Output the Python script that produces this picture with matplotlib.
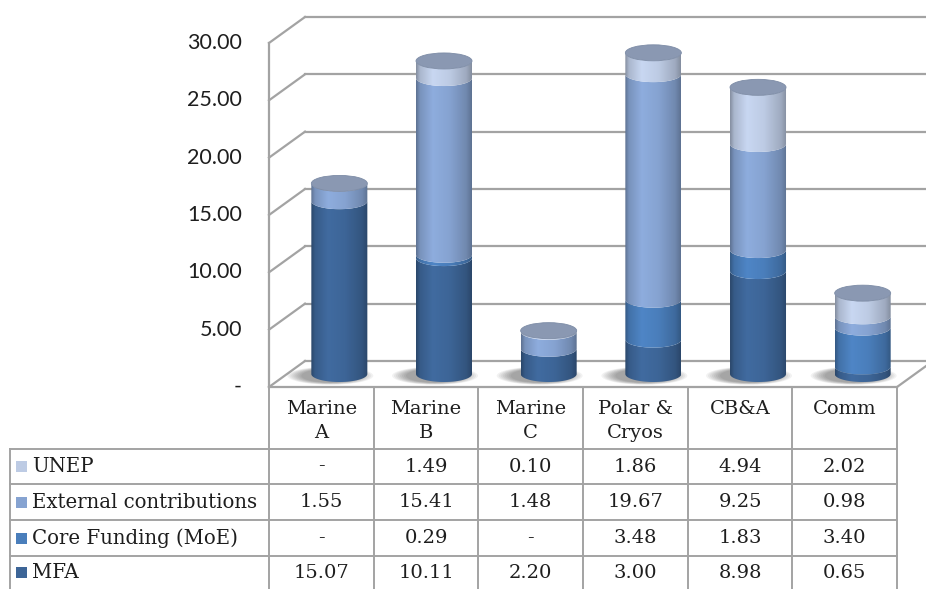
import numpy as np
import matplotlib.pyplot as plt
from matplotlib.patches import Ellipse, PathPatch, Rectangle
from matplotlib.path import Path
from matplotlib.colors import to_rgb

# funding per workstream (stacked bottom -> top: MFA, Core, External, UNEP)
categories = ['Marine\nA', 'Marine\nB', 'Marine\nC', 'Polar &\nCryos', 'CB&A', 'Comm']
unep = [0.00, 1.49, 0.10, 1.86, 4.94, 2.02]
external = [1.55, 15.41, 1.48, 19.67, 9.25, 0.98]
core = [0.00, 0.29, 0.00, 3.48, 1.83, 3.40]
mfa = [15.07, 10.11, 2.20, 3.00, 8.98, 0.65]
yticks = [0, 5, 10, 15, 20, 25, 30]

stack = [('MFA', mfa, '#3d6597'),
         ('Core Funding (MoE)', core, '#4a7ebb'),
         ('External contributions', external, '#86a3d1'),
         ('UNEP', unep, '#bdcbe4')]
table_rows = [stack[3], stack[2], stack[1], stack[0]]

GRID = '#a3a3a3'
TXT = '#1e1e1e'

# pixel layout -> data units (1 category = CAT_W px, 1 unit = UNIT px)
CAT_W = 104.67
UNIT = 11.467
X0, Y0 = 269, 387


def px_x(p):
    return (p - X0) / CAT_W


def px_y(p):
    return (Y0 - p) / UNIT


fig = plt.figure(figsize=(9.26, 5.89), dpi=100)
ax = fig.add_axes([0, 0, 1, 1])
ax.axis('off')

DX = 36 / CAT_W
DY = 26 / UNIT
n = len(categories)

# walls and floor
for t in yticks:
    ax.plot([0, DX], [t, t + DY], color=GRID, lw=1.6, zorder=1)
    ax.plot([DX, n + DX], [t + DY, t + DY], color=GRID, lw=1.6, zorder=1)
    ax.text(px_x(242), t, '-' if t == 0 else f'{t:.2f}', ha='right', va='center',
            fontsize=15.5, family='Lato', color=TXT)
ax.plot([0, 0], [0, 30], color=GRID, lw=1.6, zorder=1)
ax.plot([0, n], [0, 0], color=GRID, lw=1.6, zorder=1)
ax.plot([n, n + DX], [0, DY], color=GRID, lw=1.6, zorder=1)

# cylinders
rx = 28 / CAT_W
ry = 8 / UNIT
base = DY / 2
prof_u = [0, 0.07, 0.3, 0.6, 0.9, 1]
prof_f = [0.70, 0.9, 1.06, 1.0, 0.84, 0.70]
uu = np.linspace(0, 1, 120)
shade = np.interp(uu, prof_u, prof_f)
th = np.linspace(np.pi, 2 * np.pi, 60)

for i in range(n):
    cx = i + 0.5 + DX / 2
    # soft floor shadow, cast to the left
    for k in range(8):
        ax.add_patch(Ellipse((cx - 9 / CAT_W, base - 0.15), 2 * rx + (30 - 4 * k) / CAT_W,
                             2 * ry + (2 - 0.6 * k) / UNIT, facecolor='black', alpha=0.05,
                             edgecolor='none', zorder=2))
    y = base
    for name, vals, col in stack:
        v = vals[i]
        if v <= 0:
            continue
        y0, y1 = y, y + v
        top = np.column_stack([cx + rx * np.cos(th), y1 + ry * np.sin(th)])
        bot = np.column_stack([cx + rx * np.cos(th[::-1]), y0 + ry * np.sin(th[::-1])])
        verts = np.vstack([top, bot, top[:1]])
        codes = [Path.MOVETO] + [Path.LINETO] * (len(verts) - 2) + [Path.CLOSEPOLY]
        patch = PathPatch(Path(verts, codes), facecolor='none', edgecolor='none', zorder=3)
        ax.add_patch(patch)
        rgb = np.clip(np.array(to_rgb(col))[None, :] * shade[:, None], 0, 1)
        im = ax.imshow(rgb[None, :, :], extent=[cx - rx, cx + rx, y0 - ry, y1 + ry],
                       aspect='auto', interpolation='bilinear', zorder=3)
        im.set_clip_path(patch)
        y = y1
    ax.add_patch(Ellipse((cx, y), 2 * rx, 2 * ry, facecolor='#8a98b2',
                         edgecolor='#7d8ca6', lw=0.6, zorder=4))

# data table
rows_px = [449, 484, 520, 556, 589]
for i in range(n + 1):
    ax.plot([i, i], [0, px_y(589)], color=GRID, lw=1.4, zorder=1)
ax.plot([px_x(10), px_x(10)], [px_y(449), px_y(589)], color=GRID, lw=1.4)
for p in rows_px[:-1]:
    ax.plot([px_x(10), n], [px_y(p), px_y(p)], color=GRID, lw=1.4)

for i, c in enumerate(categories):
    ax.text(i + 0.5, px_y(400), c, ha='center', va='top', fontsize=14,
            family='DejaVu Serif', color=TXT, linespacing=1.45)

for r, (name, vals, col) in enumerate(table_rows):
    yc = px_y((rows_px[r] + rows_px[r + 1]) / 2)
    ax.add_patch(Rectangle((px_x(16), yc - 5.5 / UNIT), 11 / CAT_W, 11 / UNIT,
                           facecolor=col, edgecolor='none'))
    ax.text(px_x(32), yc, name, ha='left', va='center', fontsize=14.2,
            family='DejaVu Serif', color=TXT)
    for i, v in enumerate(vals):
        ax.text(i + 0.5, yc, '-' if v == 0 else f'{v:.2f}', ha='center', va='center',
                fontsize=14, family='DejaVu Serif', color=TXT)

ax.set_xlim(px_x(0), px_x(926))
ax.set_ylim(px_y(589), px_y(0))

fig.savefig('out.png', dpi=100)
